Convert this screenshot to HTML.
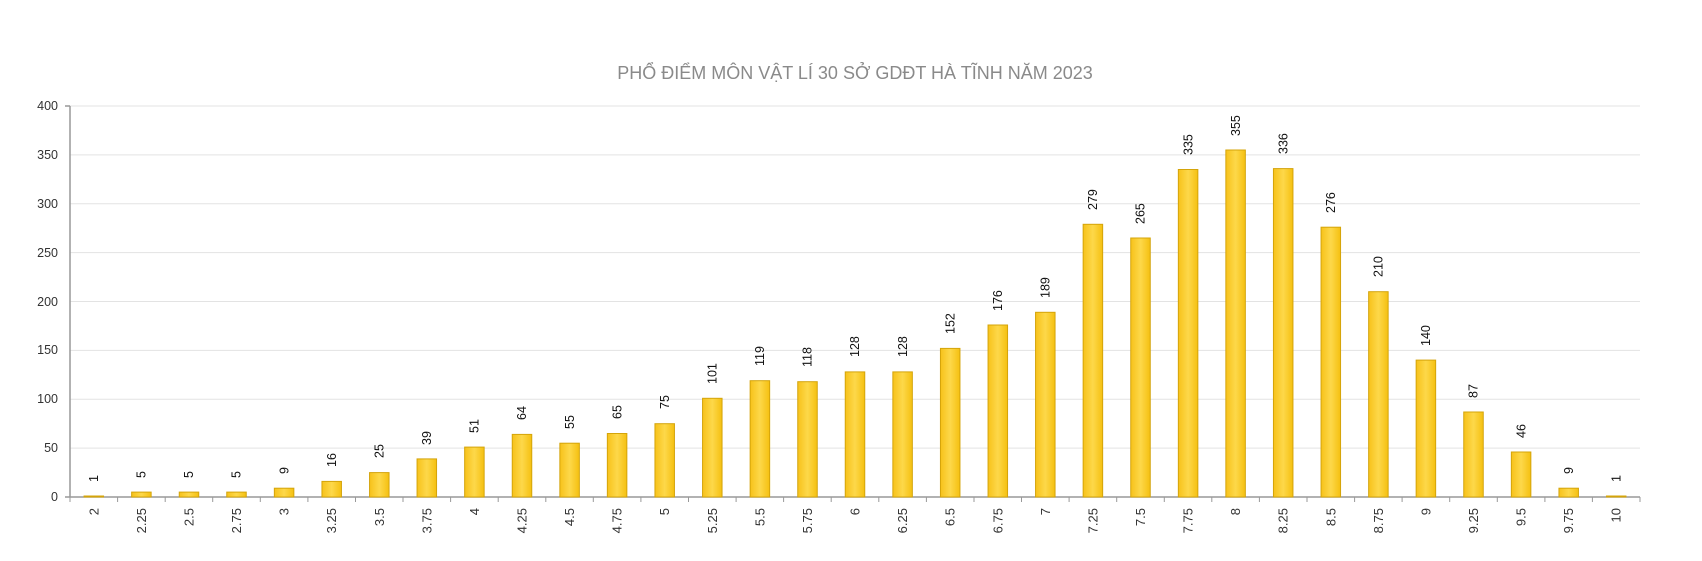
<!DOCTYPE html>
<html><head><meta charset="utf-8"><style>
html,body{margin:0;padding:0;background:#fff;}
svg{display:block;font-family:"Liberation Sans","DejaVu Sans",sans-serif;}
</style></head><body>
<svg width="1702" height="561" viewBox="0 0 1702 561" xmlns="http://www.w3.org/2000/svg">
<defs>
<linearGradient id="g" x1="0" x2="1" y1="0" y2="0">
<stop offset="0" stop-color="#f7c21a"/><stop offset="0.5" stop-color="#fdd84a"/><stop offset="1" stop-color="#f5c010"/>
</linearGradient>
</defs>
<text x="855" y="79" text-anchor="middle" font-size="18" fill="#8a8a8a">PHỔ ĐIỂM MÔN VẬT LÍ 30 SỞ GDĐT HÀ TĨNH NĂM 2023</text>
<g stroke="#e3e3e3" stroke-width="1">
<line x1="70" x2="1640" y1="448.1" y2="448.1"/><line x1="70" x2="1640" y1="399.3" y2="399.3"/>
<line x1="70" x2="1640" y1="350.4" y2="350.4"/><line x1="70" x2="1640" y1="301.5" y2="301.5"/>
<line x1="70" x2="1640" y1="252.6" y2="252.6"/><line x1="70" x2="1640" y1="203.8" y2="203.8"/>
<line x1="70" x2="1640" y1="154.9" y2="154.9"/><line x1="70" x2="1640" y1="106" y2="106"/>
</g>
<g font-size="12.5" fill="#333" text-anchor="end">
<text x="58" y="501">0</text><text x="58" y="452">50</text><text x="58" y="403">100</text>
<text x="58" y="354">150</text><text x="58" y="306">200</text><text x="58" y="257">250</text>
<text x="58" y="208">300</text><text x="58" y="159">350</text><text x="58" y="110">400</text>
</g>
<g stroke="#999" stroke-width="1.5">
<line x1="70" x2="70" y1="106" y2="497"/>
<line x1="65" x2="70" y1="106" y2="106"/><line x1="65" x2="70" y1="497" y2="497"/>
<line x1="70" x2="1640" y1="497" y2="497"/>
</g>
<g stroke="#999" stroke-width="1">
<line x1="70" x2="70" y1="497" y2="502"/><line x1="117.6" x2="117.6" y1="497" y2="502"/><line x1="165.2" x2="165.2" y1="497" y2="502"/><line x1="212.7" x2="212.7" y1="497" y2="502"/><line x1="260.3" x2="260.3" y1="497" y2="502"/><line x1="307.9" x2="307.9" y1="497" y2="502"/><line x1="355.5" x2="355.5" y1="497" y2="502"/><line x1="403" x2="403" y1="497" y2="502"/><line x1="450.6" x2="450.6" y1="497" y2="502"/><line x1="498.2" x2="498.2" y1="497" y2="502"/><line x1="545.8" x2="545.8" y1="497" y2="502"/><line x1="593.3" x2="593.3" y1="497" y2="502"/><line x1="640.9" x2="640.9" y1="497" y2="502"/><line x1="688.5" x2="688.5" y1="497" y2="502"/><line x1="736.1" x2="736.1" y1="497" y2="502"/><line x1="783.6" x2="783.6" y1="497" y2="502"/><line x1="831.2" x2="831.2" y1="497" y2="502"/><line x1="878.8" x2="878.8" y1="497" y2="502"/><line x1="926.4" x2="926.4" y1="497" y2="502"/><line x1="974" x2="974" y1="497" y2="502"/><line x1="1021.5" x2="1021.5" y1="497" y2="502"/><line x1="1069.1" x2="1069.1" y1="497" y2="502"/><line x1="1116.7" x2="1116.7" y1="497" y2="502"/><line x1="1164.3" x2="1164.3" y1="497" y2="502"/><line x1="1211.8" x2="1211.8" y1="497" y2="502"/><line x1="1259.4" x2="1259.4" y1="497" y2="502"/><line x1="1307" x2="1307" y1="497" y2="502"/><line x1="1354.6" x2="1354.6" y1="497" y2="502"/><line x1="1402.1" x2="1402.1" y1="497" y2="502"/><line x1="1449.7" x2="1449.7" y1="497" y2="502"/><line x1="1497.3" x2="1497.3" y1="497" y2="502"/><line x1="1544.9" x2="1544.9" y1="497" y2="502"/><line x1="1592.4" x2="1592.4" y1="497" y2="502"/><line x1="1640" x2="1640" y1="497" y2="502"/>
</g>
<g fill="url(#g)" stroke="#d4a40a" stroke-width="1">
<rect x="84.05" y="496" width="19.5" height="1"/>
<rect x="131.65" y="492.1" width="19.5" height="4.9"/>
<rect x="179.25" y="492.1" width="19.5" height="4.9"/>
<rect x="226.75" y="492.1" width="19.5" height="4.9"/>
<rect x="274.35" y="488.2" width="19.5" height="8.8"/>
<rect x="321.95" y="481.4" width="19.5" height="15.6"/>
<rect x="369.55" y="472.6" width="19.5" height="24.4"/>
<rect x="417.05" y="458.9" width="19.5" height="38.1"/>
<rect x="464.65" y="447.1" width="19.5" height="49.9"/>
<rect x="512.25" y="434.4" width="19.5" height="62.6"/>
<rect x="559.85" y="443.2" width="19.5" height="53.8"/>
<rect x="607.35" y="433.5" width="19.5" height="63.5"/>
<rect x="654.95" y="423.7" width="19.5" height="73.3"/>
<rect x="702.55" y="398.3" width="19.5" height="98.7"/>
<rect x="750.15" y="380.7" width="19.5" height="116.3"/>
<rect x="797.75" y="381.7" width="19.5" height="115.3"/>
<rect x="845.25" y="371.9" width="19.5" height="125.1"/>
<rect x="892.85" y="371.9" width="19.5" height="125.1"/>
<rect x="940.45" y="348.4" width="19.5" height="148.6"/>
<rect x="988.05" y="325" width="19.5" height="172"/>
<rect x="1035.55" y="312.3" width="19.5" height="184.7"/>
<rect x="1083.15" y="224.3" width="19.5" height="272.7"/>
<rect x="1130.75" y="238" width="19.5" height="259"/>
<rect x="1178.35" y="169.5" width="19.5" height="327.5"/>
<rect x="1225.85" y="150" width="19.5" height="347"/>
<rect x="1273.45" y="168.6" width="19.5" height="328.4"/>
<rect x="1321.05" y="227.2" width="19.5" height="269.8"/>
<rect x="1368.65" y="291.7" width="19.5" height="205.3"/>
<rect x="1416.15" y="360.1" width="19.5" height="136.9"/>
<rect x="1463.75" y="412" width="19.5" height="85"/>
<rect x="1511.35" y="452" width="19.5" height="45"/>
<rect x="1558.95" y="488.2" width="19.5" height="8.8"/>
<rect x="1606.45" y="496" width="19.5" height="1"/>
</g>
<g font-size="12.5" fill="#111">
<text transform="translate(98,482) rotate(-90)">1</text>
<text transform="translate(145.6,478) rotate(-90)">5</text>
<text transform="translate(193.2,478) rotate(-90)">5</text>
<text transform="translate(240.7,478) rotate(-90)">5</text>
<text transform="translate(288.3,474) rotate(-90)">9</text>
<text transform="translate(335.9,467) rotate(-90)">16</text>
<text transform="translate(383.5,458) rotate(-90)">25</text>
<text transform="translate(431,445) rotate(-90)">39</text>
<text transform="translate(478.6,433) rotate(-90)">51</text>
<text transform="translate(526.2,420) rotate(-90)">64</text>
<text transform="translate(573.8,429) rotate(-90)">55</text>
<text transform="translate(621.3,419) rotate(-90)">65</text>
<text transform="translate(668.9,409) rotate(-90)">75</text>
<text transform="translate(716.5,384) rotate(-90)">101</text>
<text transform="translate(764.1,366) rotate(-90)">119</text>
<text transform="translate(811.7,367) rotate(-90)">118</text>
<text transform="translate(859.2,357) rotate(-90)">128</text>
<text transform="translate(906.8,357) rotate(-90)">128</text>
<text transform="translate(954.4,334) rotate(-90)">152</text>
<text transform="translate(1002,311) rotate(-90)">176</text>
<text transform="translate(1049.5,298) rotate(-90)">189</text>
<text transform="translate(1097.1,210) rotate(-90)">279</text>
<text transform="translate(1144.7,224) rotate(-90)">265</text>
<text transform="translate(1192.3,155) rotate(-90)">335</text>
<text transform="translate(1239.8,136) rotate(-90)">355</text>
<text transform="translate(1287.4,154) rotate(-90)">336</text>
<text transform="translate(1335,213) rotate(-90)">276</text>
<text transform="translate(1382.6,277) rotate(-90)">210</text>
<text transform="translate(1430.1,346) rotate(-90)">140</text>
<text transform="translate(1477.7,398) rotate(-90)">87</text>
<text transform="translate(1525.3,438) rotate(-90)">46</text>
<text transform="translate(1572.9,474) rotate(-90)">9</text>
<text transform="translate(1620.4,482) rotate(-90)">1</text>
</g>
<g font-size="13" fill="#333" text-anchor="end">
<text transform="translate(98.3,508) rotate(-90)">2</text>
<text transform="translate(145.9,508) rotate(-90)">2.25</text>
<text transform="translate(193.5,508) rotate(-90)">2.5</text>
<text transform="translate(241,508) rotate(-90)">2.75</text>
<text transform="translate(288.6,508) rotate(-90)">3</text>
<text transform="translate(336.2,508) rotate(-90)">3.25</text>
<text transform="translate(383.8,508) rotate(-90)">3.5</text>
<text transform="translate(431.3,508) rotate(-90)">3.75</text>
<text transform="translate(478.9,508) rotate(-90)">4</text>
<text transform="translate(526.5,508) rotate(-90)">4.25</text>
<text transform="translate(574.1,508) rotate(-90)">4.5</text>
<text transform="translate(621.6,508) rotate(-90)">4.75</text>
<text transform="translate(669.2,508) rotate(-90)">5</text>
<text transform="translate(716.8,508) rotate(-90)">5.25</text>
<text transform="translate(764.4,508) rotate(-90)">5.5</text>
<text transform="translate(812,508) rotate(-90)">5.75</text>
<text transform="translate(859.5,508) rotate(-90)">6</text>
<text transform="translate(907.1,508) rotate(-90)">6.25</text>
<text transform="translate(954.7,508) rotate(-90)">6.5</text>
<text transform="translate(1002.3,508) rotate(-90)">6.75</text>
<text transform="translate(1049.8,508) rotate(-90)">7</text>
<text transform="translate(1097.4,508) rotate(-90)">7.25</text>
<text transform="translate(1145,508) rotate(-90)">7.5</text>
<text transform="translate(1192.6,508) rotate(-90)">7.75</text>
<text transform="translate(1240.1,508) rotate(-90)">8</text>
<text transform="translate(1287.7,508) rotate(-90)">8.25</text>
<text transform="translate(1335.3,508) rotate(-90)">8.5</text>
<text transform="translate(1382.9,508) rotate(-90)">8.75</text>
<text transform="translate(1430.4,508) rotate(-90)">9</text>
<text transform="translate(1478,508) rotate(-90)">9.25</text>
<text transform="translate(1525.6,508) rotate(-90)">9.5</text>
<text transform="translate(1573.2,508) rotate(-90)">9.75</text>
<text transform="translate(1620.7,508) rotate(-90)">10</text>
</g>
</svg>
</body></html>
